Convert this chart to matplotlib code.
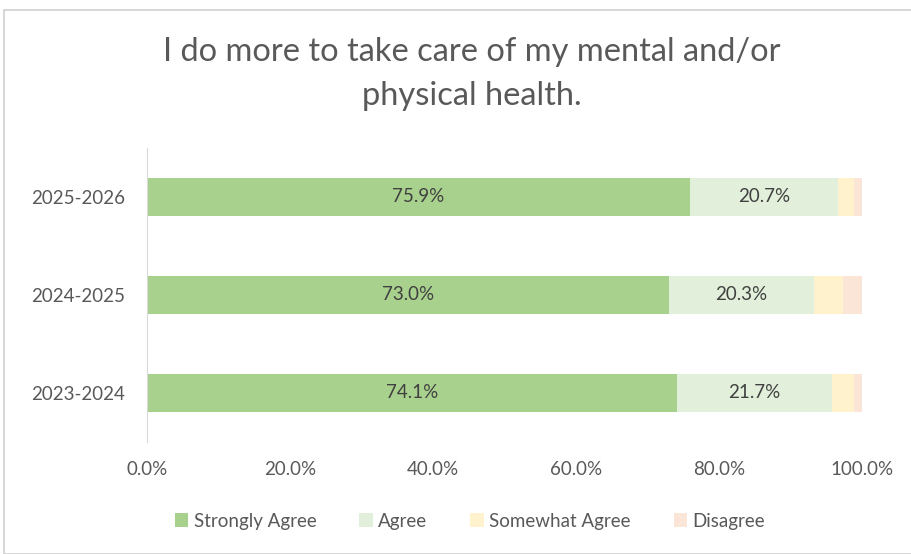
import numpy as np
import matplotlib.pyplot as plt
from matplotlib.patches import Rectangle

plt.rcParams['font.family'] = ['Lato', 'DejaVu Sans']

# Dados (em %)
years = ['2023-2024', '2024-2025', '2025-2026']
strongly_agree = [74.1, 73.0, 75.9]
agree = [21.7, 20.3, 20.7]
somewhat_agree = [3.1, 4.1, 2.3]
disagree = [1.1, 2.6, 1.1]

series_names = ['Strongly Agree', 'Agree', 'Somewhat Agree', 'Disagree']
colors = ['#A9D18E', '#E2EFDA', '#FFF2CC', '#FBE5D6']
text_color = '#595959'

fig = plt.figure(figsize=(9.12, 5.54), dpi=100)
ax = fig.add_axes([147 / 912, 1 - 442 / 554, (862 - 147) / 912, (442 - 148) / 554])

# moldura da área do gráfico
fig.patches.append(Rectangle((4 / 912, 0), 1.0, 1 - 10 / 554, transform=fig.transFigure,
                             fill=False, edgecolor='#D0D0D0', linewidth=1.2))

y = np.arange(len(years))
left = np.zeros(len(years))
all_series = [strongly_agree, agree, somewhat_agree, disagree]
for i, (vals, name) in enumerate(zip(all_series, series_names)):
    vals = np.array(vals)
    bars = ax.barh(y, vals, left=left, height=0.39, color=colors[i], label=name)
    if i < 2:
        for b, v in zip(bars, vals):
            ax.text(b.get_x() + b.get_width() / 2, b.get_y() + b.get_height() / 2,
                    f'{v:.1f}%', ha='center', va='center', fontsize=13.5, color='#404040')
    left += vals

ax.set_xlim(0, 100)
ax.set_ylim(-0.5, 2.5)
ax.set_yticks(y)
ax.set_yticklabels(years, fontsize=13.5, color=text_color)
ax.set_xticks(np.arange(0, 101, 20))
ax.set_xticklabels([f'{v:.1f}%' for v in np.arange(0, 101, 20)], fontsize=13.5, color=text_color)
ax.tick_params(axis='both', length=0)
ax.tick_params(axis='x', pad=14)
ax.tick_params(axis='y', pad=16)
for s in ['top', 'right', 'bottom']:
    ax.spines[s].set_visible(False)
ax.spines['left'].set_color('#D9D9D9')

fig.text(472 / 912, 1 - 74 / 554, 'I do more to take care of my mental and/or\nphysical health.',
         ha='center', va='center', fontsize=23.5, color=text_color, linespacing=1.55)

fig.legend(loc='center', bbox_to_anchor=(470 / 912, 1 - 521 / 554), ncol=4, frameon=False,
           fontsize=13.5, labelcolor=text_color, handlelength=0.7, handleheight=0.7,
           handletextpad=0.3, columnspacing=2.3)

fig.savefig('out.png', dpi=100)
